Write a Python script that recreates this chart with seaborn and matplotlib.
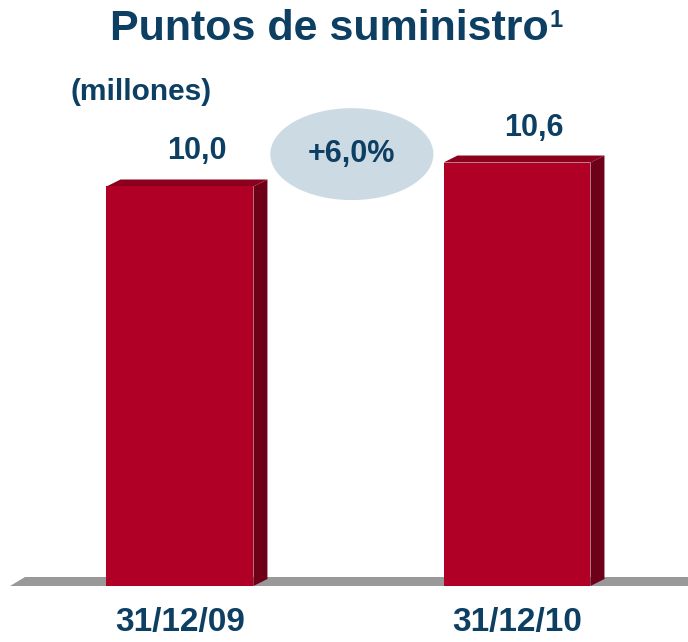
# puntos de suministro - two 3d-looking bars with growth bubble

import matplotlib
matplotlib.use("Agg")
import matplotlib.pyplot as plt
from matplotlib.patches import Polygon, Ellipse
import pandas as pd
import seaborn as sns

# data
categories = ["31/12/09", "31/12/10"]
values = [10.0, 10.6]
value_labels = ["10,0", "10,6"]
growth_label = "+6,0%"
title = "Puntos de suministro"
subtitle = "(millones)"

NAVY = "#0D3F63"
FRONT = "#B10026"
TOP = "#8A001D"
SIDE = "#6E0018"
FLOOR = "#999999"
BUBBLE = "#CCDAE4"


def main():
    sns.set_theme(style="white")
    plt.rcParams["font.family"] = ["Liberation Sans", "DejaVu Sans"]

    fig = plt.figure(figsize=(6.88, 6.42), dpi=100)
    ax = fig.add_axes([0, 56 / 642, 1, 586 / 642])

    df = pd.DataFrame({"fecha": categories, "valor": values})
    sns.barplot(data=df, x="fecha", y="valor", color=FRONT, width=0.436,
                saturation=1, ax=ax, zorder=3, edgecolor="none")

    ax.set_xlim(-0.534, 1.5074)
    ax.set_ylim(0, 14.668)
    sns.despine(ax=ax, left=True, bottom=True)
    ax.set_yticks([])
    ax.set_xlabel("")
    ax.set_ylabel("")
    ax.tick_params(axis="x", length=0, pad=15)
    for lab in ax.get_xticklabels():
        lab.set_fontsize(24)
        lab.set_fontweight("bold")
        lab.set_color(NAVY)

    # depth offsets for the fake 3d look
    dx, dy = 0.0415, 0.175

    # grey floor
    x0, x1 = ax.get_xlim()
    ax.add_patch(Polygon([(-0.504, 0), (x1 + 0.1, 0), (x1 + 0.1, 0.225),
                          (-0.504 + 0.045, 0.225)], closed=True,
                         facecolor=FLOOR, edgecolor="none", zorder=1))

    for bar, lab in zip(ax.patches, value_labels):
        left = bar.get_x()
        right = left + bar.get_width()
        h = bar.get_height()
        # side face
        ax.add_patch(Polygon([(right, 0), (right + dx, dy), (right + dx, h + dy),
                              (right, h)], closed=True, facecolor=SIDE,
                             edgecolor="none", zorder=2))
        # top face
        ax.add_patch(Polygon([(left, h), (right, h), (right + dx, h + dy),
                              (left + dx, h + dy)], closed=True, facecolor=TOP,
                             edgecolor="none", zorder=2))
        ax.text(left + bar.get_width() / 2 + 0.05, h + 0.676, lab,
                ha="center", va="baseline", fontsize=22, fontweight="bold",
                color=NAVY)

    # growth bubble
    ax.add_patch(Ellipse((0.51, 10.81), 0.484, 2.30, facecolor=BUBBLE,
                         edgecolor="none", zorder=4))
    ax.text(0.51, 10.81, growth_label, ha="center", va="center", fontsize=22,
            fontweight="bold", color=NAVY, zorder=5)

    # title and unit
    t = fig.text(110 / 688, 1 - 40 / 642, title, ha="left", va="baseline",
                 fontsize=31, fontweight="bold", color=NAVY)
    fig.canvas.draw()
    bb = t.get_window_extent()
    fig.text(bb.x1 / 688 + 1 / 688, 1 - 27 / 642, "1", ha="left", va="baseline",
             fontsize=17, fontweight="bold", color=NAVY)
    fig.text(70 / 688, 1 - 100 / 642, subtitle, ha="left", va="baseline",
             fontsize=21.5, fontweight="bold", color=NAVY)

    fig.savefig("out.png", dpi=100)


if __name__ == "__main__":
    main()
